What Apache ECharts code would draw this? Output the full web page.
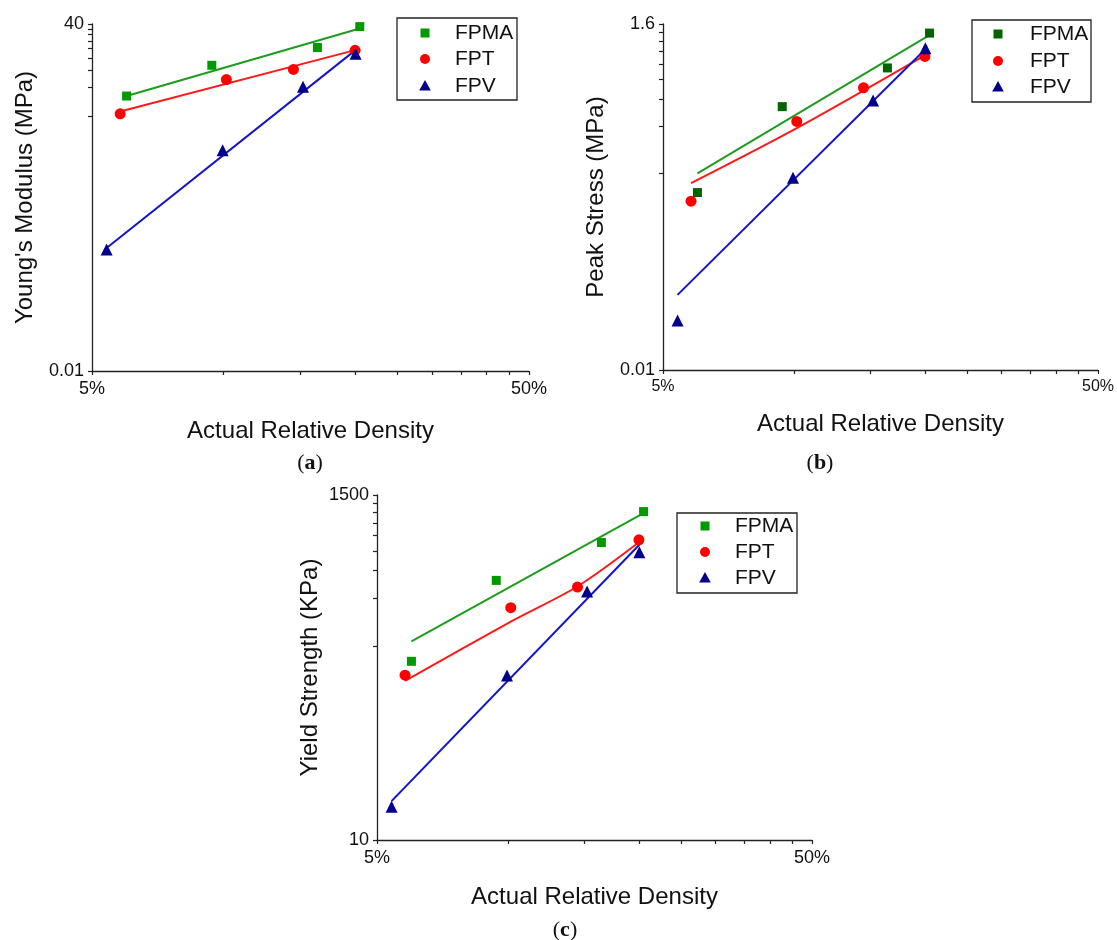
<!DOCTYPE html>
<html><head><meta charset="utf-8">
<script src="https://cdn.jsdelivr.net/npm/echarts@6/dist/echarts.min.js"></script>
<style>html,body{margin:0;padding:0;background:#fff}#c{width:1117px;height:940px}</style>
</head><body><div id="c"></div>
<script>
// ---------- data (actual relative density in %) ----------
const seriesNames = ['FPMA', 'FPT', 'FPV'];
const densityFPMA = [6.0, 9.4, 16.4, 20.5];
const densityFPT  = [5.8, 10.15, 14.45, 20.0];
const densityFPV  = [5.4, 9.95, 15.2, 20.05];

// (a) Young's modulus, MPa
const modulusFPMA = [7.15, 14.9, 22.8, 37.6];
const modulusFPT  = [4.67, 10.6, 13.5, 21.3];
const modulusFPV  = [0.183, 1.96, 8.9, 19.6];
const modulusFitFPMAx = [6.0, 20.3];  const modulusFitFPMAy = [7.15, 35.5];
const modulusFitFPTx  = [5.8, 19.9];  const modulusFitFPTy  = [4.93, 21.3];
const modulusFitFPVx  = [5.4, 20.0];  const modulusFitFPVy  = [0.189, 21.3];

// (b) Peak stress, MPa
const stressFPMA = [0.135, 0.476, 0.84, 1.40];
const stressFPT  = [0.119, 0.383, 0.628, 0.995];
const stressFPV  = [0.0207, 0.168, 0.52, 1.12];
const stressFitFPMAx = [6.0, 20.4];       const stressFitFPMAy = [0.179, 1.35];
const stressFitFPTx  = [5.8, 10.2, 20.0]; const stressFitFPTy  = [0.155, 0.35, 1.01];
const stressFitFPVx  = [5.4, 20.1];       const stressFitFPVy  = [0.0301, 1.112];

// (c) Yield strength, KPa
const yieldFPMA = [134, 434, 752, 1179];
const yieldFPT  = [109.6, 292, 394, 782];
const yieldFPV  = [16.2, 109, 370, 654];
const yieldFitFPMAx = [6.0, 20.5];             const yieldFitFPMAy = [179, 1151];
const yieldFitFPTx  = [5.8, 10.2, 14.5, 20.1]; const yieldFitFPTy  = [101, 240, 400, 763];
const yieldFitFPVx  = [5.4, 20.2];             const yieldFitFPVy  = [17.6, 745];

// ---------- axis ticks / labels ----------
const xLabelValues = [5, 50];
const xTickValues = [5, 10, 15, 20, 25, 30, 35, 40, 45, 50];
const yLabelsA = [0.01, 40];
const yTicksA = [0.01, 4.44, 8.89, 13.3, 17.8, 22.2, 26.7, 31.1, 35.6, 40];
const yLabelsB = [0.01, 1.6];
const yTicksB = [0.01, 0.178, 0.356, 0.533, 0.711, 0.889, 1.07, 1.24, 1.42, 1.6];
const yLabelsC = [10, 1500];
const yTicksC = [10, 167, 333, 500, 667, 833, 1000, 1167, 1333, 1500];
const panelCaptions = ['a', 'b', 'c'];

// ---------- helpers ----------
const FONT = '"Liberation Sans", Arial, sans-serif';
const SERIF = '"Liberation Serif", "Times New Roman", serif';
const zip = (xs, ys) => xs.map((x, i) => [x, ys[i]]);

function xAxisFor(gi, labelSize, nameGap) {
  return {
    type: 'log', logBase: 10, gridIndex: gi, min: 5, max: 50,
    name: 'Actual Relative Density', nameLocation: 'middle', nameGap: nameGap,
    nameTextStyle: { fontFamily: FONT, fontSize: 24, color: '#111' },
    axisLine: { show: true, onZero: false, lineStyle: { color: '#222', width: 1.3 } },
    axisTick: { show: true, inside: false, length: 4, customValues: xTickValues, lineStyle: { color: '#222', width: 1.2 } },
    axisLabel: { customValues: xLabelValues, formatter: v => v + '%', fontFamily: FONT, fontSize: labelSize, color: '#111', margin: 9 },
    splitLine: { show: false }, minorTick: { show: false }
  };
}
function yAxisFor(gi, name, min, max, labels, ticks) {
  return {
    type: 'log', logBase: 10, gridIndex: gi, min: min, max: max,
    name: name, nameLocation: 'middle', nameGap: 55,
    nameTextStyle: { fontFamily: FONT, fontSize: 24, color: '#111' },
    axisLine: { show: true, onZero: false, lineStyle: { color: '#222', width: 1.3 } },
    axisTick: { show: true, inside: false, length: 4, customValues: ticks, lineStyle: { color: '#222', width: 1.2 } },
    axisLabel: { customValues: labels, formatter: v => String(v), fontFamily: FONT, fontSize: 18, color: '#111', margin: 8 },
    splitLine: { show: false }, minorTick: { show: false }
  };
}
function scatter(name, gi, xs, ys, symbol, size, color) {
  return { type: 'scatter', name: name, xAxisIndex: gi, yAxisIndex: gi, data: zip(xs, ys),
    symbol: symbol, symbolSize: size, itemStyle: { color: color, opacity: 1 }, z: 5, silent: true };
}
function fit(gi, xs, ys, color) {
  return { type: 'line', name: 'fit', xAxisIndex: gi, yAxisIndex: gi, data: zip(xs, ys),
    showSymbol: false, symbol: 'none', smooth: xs.length > 2 ? 0.3 : false,
    lineStyle: { color: color, width: 2 }, z: 3, silent: true };
}
// legend box drawn as graphic: box [x0,y0,x1,y1], marker x, text x, row centres
function legendGraphic(box, mx, tx, rows, colors) {
  const children = [{
    type: 'rect', shape: { x: box[0], y: box[1], width: box[2] - box[0], height: box[3] - box[1] },
    style: { fill: '#fff', stroke: '#222', lineWidth: 1.3 }
  }];
  children.push({ type: 'rect', shape: { x: mx - 4.5, y: rows[0] - 4.5, width: 9, height: 9 }, style: { fill: colors[0] } });
  children.push({ type: 'circle', shape: { cx: mx, cy: rows[1], r: 5 }, style: { fill: colors[1] } });
  children.push({ type: 'polygon', shape: { points: [[mx, rows[2] - 6], [mx + 5.8, rows[2] + 4.5], [mx - 5.8, rows[2] + 4.5]] }, style: { fill: colors[2] } });
  seriesNames.forEach((n, i) => children.push({
    type: 'text', x: tx, y: rows[i],
    style: { text: n, fontFamily: FONT, fontSize: 21, fill: '#111', align: 'left', verticalAlign: 'middle' }
  }));
  return { type: 'group', silent: true, z: 100, children: children };
}

const GREEN = '#009a00', GREEN_DARK = '#006400', RED = '#ff0000', NAVY = '#00008b';
const GREEN_LINE = '#1e9c1e', RED_LINE = '#ff1a1a', BLUE_LINE = '#1414c8';

const captionPos = [[310, 463], [820, 463], [565, 930]];

const option = {
  backgroundColor: '#fff',
  animation: false,
  grid: [
    { left: 92, top: 24, width: 437, height: 347 },
    { left: 663, top: 24, width: 435, height: 346 },
    { left: 377, top: 495, width: 435, height: 345 }
  ],
  xAxis: [xAxisFor(0, 18, 48), xAxisFor(1, 16, 42), xAxisFor(2, 18, 45)],
  yAxis: [
    yAxisFor(0, "Young's Modulus (MPa)", 0.01, 40, yLabelsA, yTicksA),
    yAxisFor(1, 'Peak Stress (MPa)', 0.01, 1.6, yLabelsB, yTicksB),
    yAxisFor(2, 'Yield Strength (KPa)', 10, 1500, yLabelsC, yTicksC)
  ],
  series: [
    fit(0, modulusFitFPMAx, modulusFitFPMAy, GREEN_LINE),
    fit(0, modulusFitFPTx, modulusFitFPTy, RED_LINE),
    fit(0, modulusFitFPVx, modulusFitFPVy, BLUE_LINE),
    scatter('FPMA', 0, densityFPMA, modulusFPMA, 'rect', 9, GREEN),
    scatter('FPT', 0, densityFPT, modulusFPT, 'circle', 11, RED),
    scatter('FPV', 0, densityFPV, modulusFPV, 'triangle', 12, NAVY),

    fit(1, stressFitFPMAx, stressFitFPMAy, GREEN_LINE),
    fit(1, stressFitFPTx, stressFitFPTy, RED_LINE),
    fit(1, stressFitFPVx, stressFitFPVy, BLUE_LINE),
    scatter('FPMA', 1, densityFPMA, stressFPMA, 'rect', 9, GREEN_DARK),
    scatter('FPT', 1, densityFPT, stressFPT, 'circle', 11, RED),
    scatter('FPV', 1, densityFPV, stressFPV, 'triangle', 12, NAVY),

    fit(2, yieldFitFPMAx, yieldFitFPMAy, GREEN_LINE),
    fit(2, yieldFitFPTx, yieldFitFPTy, RED_LINE),
    fit(2, yieldFitFPVx, yieldFitFPVy, BLUE_LINE),
    scatter('FPMA', 2, densityFPMA, yieldFPMA, 'rect', 9, GREEN),
    scatter('FPT', 2, densityFPT, yieldFPT, 'circle', 11, RED),
    scatter('FPV', 2, densityFPV, yieldFPV, 'triangle', 12, NAVY)
  ],
  graphic: [
    legendGraphic([397, 18, 517, 100], 425, 455, [33, 59, 86], [GREEN, RED, NAVY]),
    legendGraphic([972, 20, 1091, 102], 998, 1030, [34, 61, 87], [GREEN_DARK, RED, NAVY]),
    legendGraphic([677, 513, 797, 593], 705, 735, [526, 552, 578], [GREEN, RED, NAVY])
  ].concat(panelCaptions.map((t, i) => ({
    type: 'text', x: captionPos[i][0], y: captionPos[i][1], silent: true,
    style: {
      text: '{p|(}{b|' + t + '}{p|)}', align: 'center', verticalAlign: 'middle',
      rich: {
        p: { fontFamily: SERIF, fontSize: 22, fill: '#111' },
        b: { fontFamily: SERIF, fontSize: 22, fontWeight: 'bold', fill: '#111' }
      }
    }
  })))
};

const chart = echarts.init(document.getElementById('c'), null, { renderer: 'canvas' });
chart.setOption(option);
</script>
</body></html>
